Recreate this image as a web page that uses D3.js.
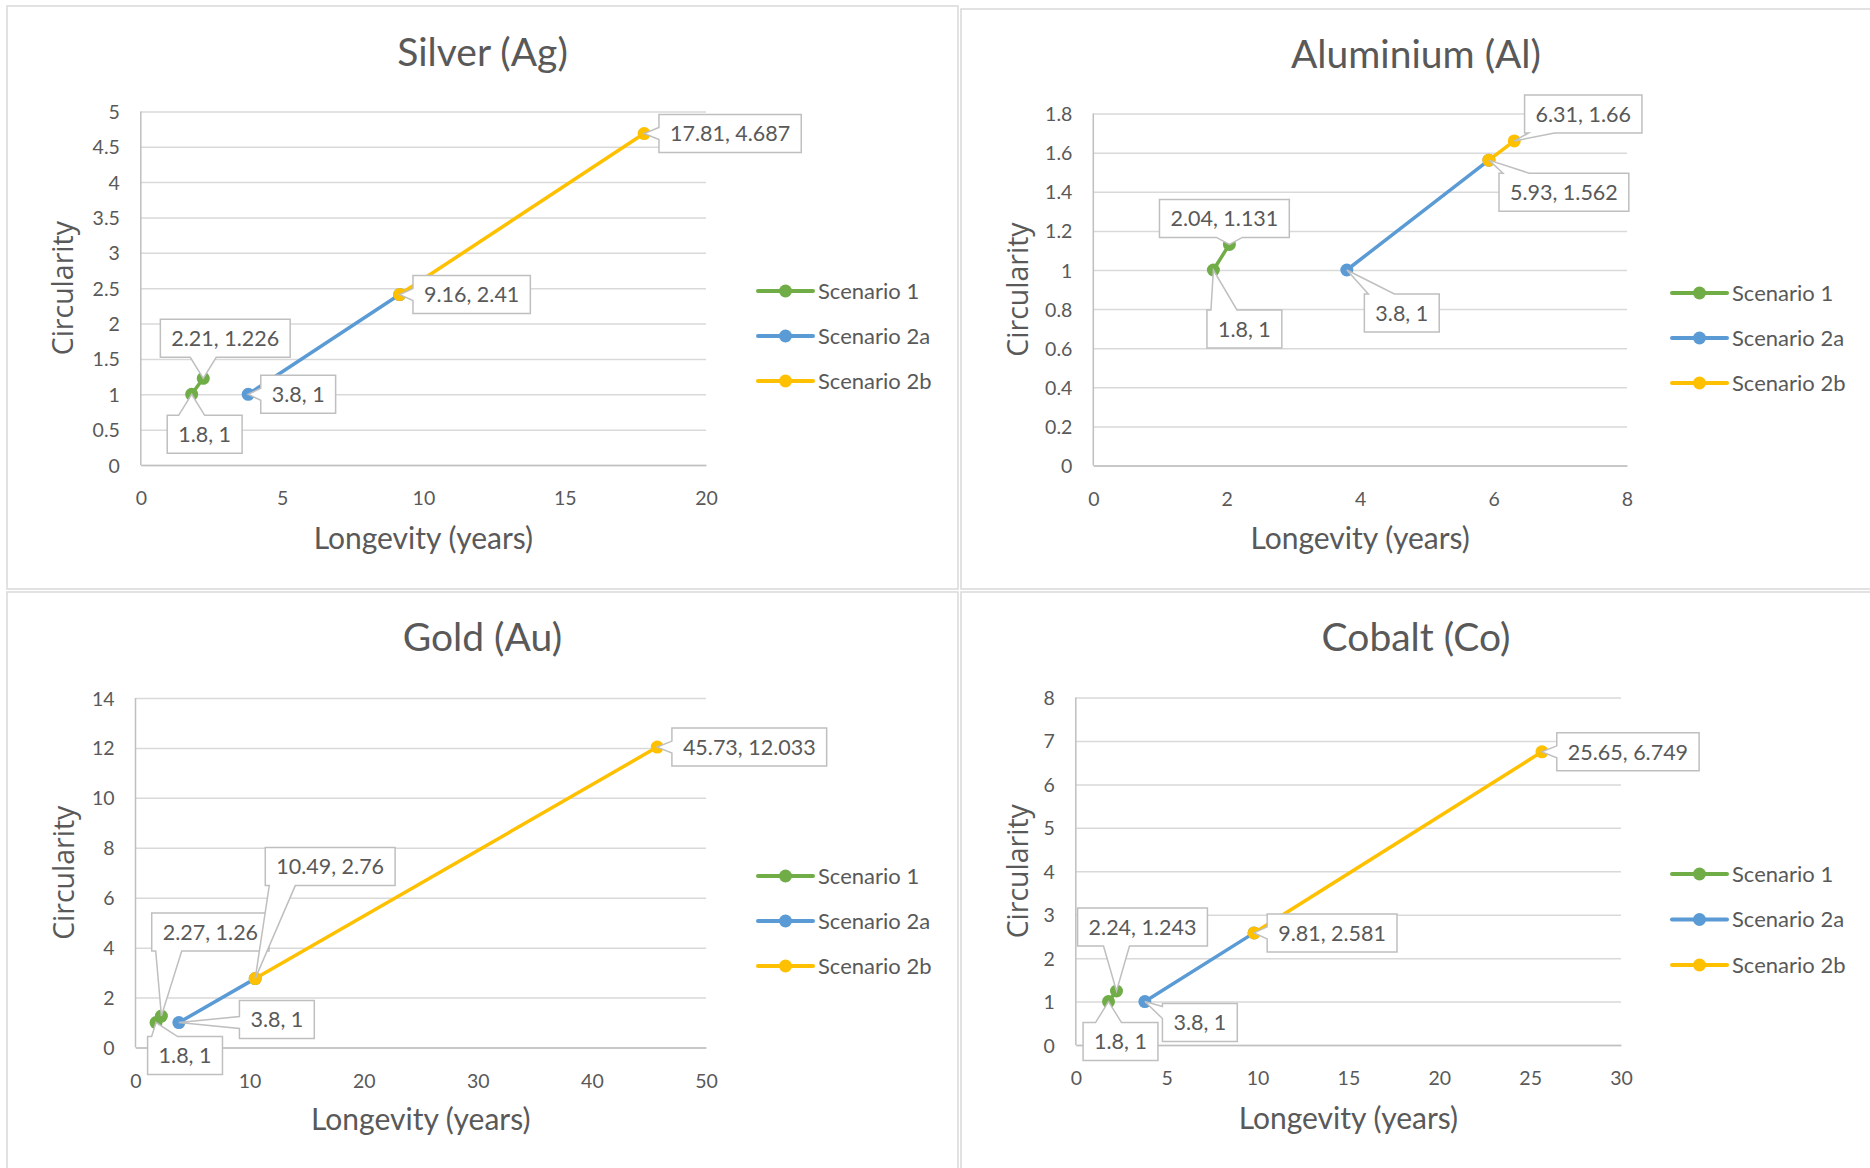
<!DOCTYPE html>
<html>
<head>
<meta charset="utf-8">
<script src="https://cdn.jsdelivr.net/npm/d3@7"></script>
<style>
  html, body { margin: 0; padding: 0; background: #ffffff; }
  svg { display: block; }
</style>
</head>
<body>
<svg id="chart" width="1870" height="1168"></svg>
<script>
// ---------------- DATA ----------------
const seriesNames = ["Scenario 1", "Scenario 2a", "Scenario 2b"];
const panelTitles = ["Silver (Ag)", "Aluminium (Al)", "Gold (Au)", "Cobalt (Co)"];
const xAxisTitle = "Longevity (years)";
const yAxisTitle = "Circularity";

// Silver (Ag)
const agScenario1  = [[1.8, 1], [2.21, 1.226]];
const agScenario2a = [[3.8, 1], [9.16, 2.41]];
const agScenario2b = [[9.16, 2.41], [17.81, 4.687]];
const agXTicks = [0, 5, 10, 15, 20];
const agYTicks = [0, 0.5, 1, 1.5, 2, 2.5, 3, 3.5, 4, 4.5, 5];

// Aluminium (Al)
const alScenario1  = [[1.8, 1], [2.04, 1.131]];
const alScenario2a = [[3.8, 1], [5.93, 1.562]];
const alScenario2b = [[5.93, 1.562], [6.31, 1.66]];
const alXTicks = [0, 2, 4, 6, 8];
const alYTicks = [0, 0.2, 0.4, 0.6, 0.8, 1, 1.2, 1.4, 1.6, 1.8];

// Gold (Au)
const auScenario1  = [[1.8, 1], [2.27, 1.26]];
const auScenario2a = [[3.8, 1], [10.49, 2.76]];
const auScenario2b = [[10.49, 2.76], [45.73, 12.033]];
const auXTicks = [0, 10, 20, 30, 40, 50];
const auYTicks = [0, 2, 4, 6, 8, 10, 12, 14];

// Cobalt (Co)
const coScenario1  = [[1.8, 1], [2.24, 1.243]];
const coScenario2a = [[3.8, 1], [9.81, 2.581]];
const coScenario2b = [[9.81, 2.581], [25.65, 6.749]];
const coXTicks = [0, 5, 10, 15, 20, 25, 30];
const coYTicks = [0, 1, 2, 3, 4, 5, 6, 7, 8];

// ---------------- STYLE / LAYOUT ----------------
const colors = ["#70AD47", "#5B9BD5", "#FFC000"];
const textColor = "#595959";
const font = "Lato, 'Open Sans', sans-serif";

// label box-centre offsets (px) from each labelled point, in order:
// S1 p0, S1 p1, S2a p0, S2a p1, S2b p1
const labelOffsets = [
  [[13, 40], [22, -40], [50, 0], [72, 0], [86, 0]],
  [[31, 59], [-5, -26], [55, 43], [75, 32], [69, -27]],
  [[29, 33], [49, -84], [98, -3], [75, -112], [92, 0]],
  [[12, 40], [26, -64], [55, 21], [78, 0], [86, 0]]
];

const layouts = [
  { frame: [7, 6, 951, 583], plot: [140.8, 111.4, 706, 465], titleX: 482.5, titleY: 66,
    legLine: [758, 813], legText: 818, legY: [291, 336, 381], yTitleX: 73, xTitleY: 549 },
  { frame: [961, 9, 925, 580], plot: [1093.3, 113.6, 1627, 465.5], titleX: 1416, titleY: 68,
    legLine: [1672, 1727], legText: 1732, legY: [293, 338, 383], yTitleX: 1028, xTitleY: 549 },
  { frame: [7, 592, 951, 590], plot: [135.5, 698, 706, 1047.5], titleX: 482.5, titleY: 651,
    legLine: [758, 813], legText: 818, legY: [876, 921, 966], yTitleX: 74, xTitleY: 1130 },
  { frame: [961, 592, 925, 590], plot: [1075.8, 697.5, 1621, 1045], titleX: 1416, titleY: 651,
    legLine: [1672, 1727], legText: 1732, legY: [874, 919.5, 965], yTitleX: 1028, xTitleY: 1129 }
];

const panelSeries = [
  [agScenario1, agScenario2a, agScenario2b],
  [alScenario1, alScenario2a, alScenario2b],
  [auScenario1, auScenario2a, auScenario2b],
  [coScenario1, coScenario2a, coScenario2b]
];
const panelXTicks = [agXTicks, alXTicks, auXTicks, coXTicks];
const panelYTicks = [agYTicks, alYTicks, auYTicks, coYTicks];

// ---------------- DRAW ----------------
const svg = d3.select("#chart");

function calloutPath(x1, y1, x2, y2, tx, ty) {
  const cx = (x1 + x2) / 2, cy = (y1 + y2) / 2;
  const w = x2 - x1, h = y2 - y1;
  if (tx >= x1 && tx <= x2 && ty >= y1 && ty <= y2) {
    return `M${x1},${y1}H${x2}V${y2}H${x1}Z`;
  }
  const rx = Math.abs(tx - cx) / (w / 2), ry = Math.abs(ty - cy) / (h / 2);
  if (rx > ry) {
    const hw = 6;
    const by = Math.max(y1 + hw + 3, Math.min(y2 - hw - 3, ty));
    if (tx < cx) {
      return `M${x1},${y1}H${x2}V${y2}H${x1}V${by + hw}L${tx},${ty}L${x1},${by - hw}Z`;
    }
    return `M${x1},${y1}H${x2}V${by - hw}L${tx},${ty}L${x2},${by + hw}V${y2}H${x1}Z`;
  } else {
    const hw = 13;
    const bx = Math.max(x1 + hw + 4, Math.min(x2 - hw - 4, tx));
    if (ty > cy) {
      return `M${x1},${y1}H${x2}V${y2}H${bx + hw}L${tx},${ty}L${bx - hw},${y2}H${x1}Z`;
    }
    return `M${x1},${y1}H${bx - hw}L${tx},${ty}L${bx + hw},${y1}H${x2}V${y2}H${x1}Z`;
  }
}

layouts.forEach((L, pi) => {
  const g = svg.append("g");
  const [fx, fy, fw, fh] = L.frame;
  g.append("rect").attr("x", fx).attr("y", fy).attr("width", fw).attr("height", fh)
    .attr("fill", "#ffffff").attr("stroke", "#d9d9d9").attr("stroke-width", 1.5);

  const [pl, pt, pr, pb] = L.plot;
  const xT = panelXTicks[pi], yT = panelYTicks[pi];
  const x = d3.scaleLinear().domain([xT[0], xT[xT.length - 1]]).range([pl, pr]);
  const y = d3.scaleLinear().domain([yT[0], yT[yT.length - 1]]).range([pb, pt]);

  // gridlines + y tick labels
  const yAxis = d3.axisLeft(y).tickValues(yT).tickSize(-(pr - pl)).tickPadding(21)
    .tickFormat(d3.format("~g"));
  const gy = g.append("g").attr("transform", `translate(${pl},0)`).call(yAxis);
  gy.select(".domain").remove();
  gy.selectAll(".tick line").attr("stroke", "#d9d9d9").attr("stroke-width", 1.5);
  gy.selectAll(".tick text").attr("fill", textColor).style("font-family", font)
    .style("font-size", "19.5px").attr("dy", "0.36em");

  // y axis vertical line
  g.append("line").attr("x1", pl).attr("x2", pl).attr("y1", pt).attr("y2", pb)
    .attr("stroke", "#bfbfbf").attr("stroke-width", 1.5);

  const xAxis = d3.axisBottom(x).tickValues(xT).tickSize(0).tickPadding(0)
    .tickFormat(d3.format("~g"));
  const gx = g.append("g").attr("transform", `translate(0,${pb})`).call(xAxis);
  gx.select(".domain").attr("stroke", "#bfbfbf").attr("stroke-width", 1.5);
  gx.selectAll(".tick text").attr("fill", textColor).style("font-family", font)
    .style("font-size", "19.5px").attr("y", 40).attr("dy", 0);

  // titles
  g.append("text").attr("x", L.titleX).attr("y", L.titleY).attr("text-anchor", "middle")
    .attr("fill", textColor).style("font-family", font).style("font-size", "39px")
    .text(panelTitles[pi]);
  g.append("text").attr("x", (pl + pr) / 2).attr("y", L.xTitleY).attr("text-anchor", "middle")
    .attr("fill", textColor).style("font-family", font).style("font-size", "30px")
    .text(xAxisTitle);
  g.append("text").attr("transform", `translate(${L.yTitleX},${(pt + pb) / 2}) rotate(-90)`)
    .attr("text-anchor", "middle").attr("fill", textColor)
    .style("font-family", "'Open Sans', sans-serif").style("font-size", "28.5px")
    .text(yAxisTitle);

  // series
  const line = d3.line().x(d => x(d[0])).y(d => y(d[1]));
  const series = panelSeries[pi];
  series.forEach((s, si) => {
    g.append("path").datum(s).attr("d", line).attr("fill", "none")
      .attr("stroke", colors[si]).attr("stroke-width", 3.5).attr("stroke-linecap", "round");
  });
  series.forEach((s, si) => {
    g.selectAll(null).data(s).enter().append("circle")
      .attr("cx", d => x(d[0])).attr("cy", d => y(d[1])).attr("r", 6.5)
      .attr("fill", colors[si]);
  });

  // labels
  const labelled = [series[0][0], series[0][1], series[1][0], series[1][1], series[2][1]];
  labelled.forEach((d, li) => {
    const px = x(d[0]), py = y(d[1]);
    const [ox, oy] = labelOffsets[pi][li];
    const cx = px + ox, cy = py + oy;
    const lg = g.append("g");
    const path = lg.append("path");
    const t = lg.append("text").attr("x", cx).attr("y", cy + 7.8).attr("text-anchor", "middle")
      .attr("fill", textColor).style("font-family", font).style("font-size", "21.5px")
      .text(`${d[0]}, ${d[1]}`);
    const tw = t.node().getComputedTextLength();
    const bw = tw + 22, bh = 38;
    const x1 = cx - bw / 2, x2 = cx + bw / 2, y1 = cy - bh / 2, y2 = cy + bh / 2;
    path.attr("d", calloutPath(x1, y1, x2, y2, px, py)).attr("fill", "#ffffff")
      .attr("stroke", "#bfbfbf").attr("stroke-width", 1.5).attr("stroke-linejoin", "miter");
  });

  // legend
  seriesNames.forEach((name, si) => {
    const ly = L.legY[si];
    g.append("line").attr("x1", L.legLine[0]).attr("x2", L.legLine[1]).attr("y1", ly).attr("y2", ly)
      .attr("stroke", colors[si]).attr("stroke-width", 4).attr("stroke-linecap", "round");
    g.append("circle").attr("cx", (L.legLine[0] + L.legLine[1]) / 2).attr("cy", ly).attr("r", 6.5)
      .attr("fill", colors[si]);
    g.append("text").attr("x", L.legText).attr("y", ly + 7.8).attr("fill", textColor)
      .style("font-family", font).style("font-size", "22px").text(name);
  });
});
</script>
</body>
</html>
